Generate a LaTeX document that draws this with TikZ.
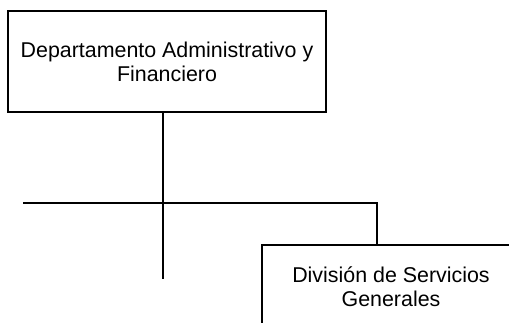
\documentclass[tikz,border=0pt]{standalone}
\usepackage{fontspec}
\setmainfont{Liberation Sans}
\usepackage{tikz}
\tikzset{every picture/.style={line width=1.6pt}}
\tikzset{unitbox/.style={draw, rectangle, align=center, inner sep=0pt,
    font=\fontsize{21.4}{24}\selectfont}}

\begin{document}
\begin{tikzpicture}[x=1pt, y=-1pt]
\useasboundingbox (0,0) rectangle (509,322);
\node[unitbox, minimum width=318, minimum height=101] (dept) at (167,61.5)
    {Departamento Administrativo y\\Financiero};
\node[unitbox, minimum width=258, minimum height=84] (div) at (391,287)
    {División de Servicios\\Generales};
\coordinate (hl) at (23,203);
\coordinate (hr) at (377,203);
\coordinate (vb) at (163,279);
\draw (dept.south -| vb) -- (vb);
\draw (hl) -- (hr) -- (div.north -| hr);
\end{tikzpicture}
\end{document}
